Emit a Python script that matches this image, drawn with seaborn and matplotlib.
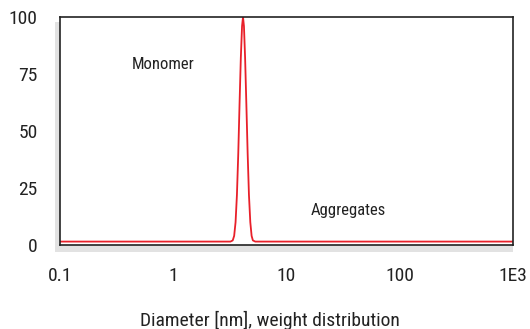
import matplotlib
matplotlib.use("Agg")
import matplotlib.pyplot as plt
from matplotlib import font_manager as fm
from matplotlib.patches import Rectangle
from matplotlib.ticker import LogLocator, NullFormatter
import seaborn as sns
import pandas as pd

sns.set_style("white")

# pick a condensed font if one is installed
family, stretch = "Liberation Sans", "normal"
cands = [f for f in fm.fontManager.ttflist
         if ("narrow" in f.fname.lower() or "condensed" in f.fname.lower())
         and "bold" not in f.fname.lower() and "oblique" not in f.fname.lower()
         and "italic" not in f.fname.lower()]
pref = ["Liberation Sans Narrow", "Roboto Condensed", "DejaVu Sans"]
cands.sort(key=lambda f: next((i for i, p in enumerate(pref) if f.name == p), 99))
if cands:
    family, stretch = cands[0].name, cands[0].stretch
plt.rcParams['font.family'] = [family, 'DejaVu Sans']
plt.rcParams['font.stretch'] = stretch

# Data
diameter_nm = [0.1, 1.0, 3.2, 3.35, 3.45, 3.55, 3.65, 3.75, 3.85, 3.95, 4.05, 4.13,
               4.21, 4.31, 4.42, 4.54, 4.66, 4.79, 4.92, 5.05, 5.3, 10.0, 100.0, 1000.0]
weight_pct = [1.5, 1.5, 1.5, 2.0, 4.0, 10.0, 22.0, 40.0, 62.0, 82.0, 96.0, 100.0,
              96.0, 82.0, 62.0, 40.0, 22.0, 10.0, 4.0, 2.0, 1.5, 1.5, 1.5, 1.5]
y_ticks = [0, 25, 50, 75, 100]
x_ticks = [0.1, 1, 10, 100, 1000]
x_tick_labels = ["0.1", "1", "10", "100", "1E3"]
annotations = [("Monomer", 0.81, 79), ("Aggregates", 35, 15)]
x_label = "Diameter [nm], weight distribution"

df = pd.DataFrame({"d": diameter_nm, "w": weight_pct})

fig = plt.figure(figsize=(5.30, 3.29), dpi=100)
ax = fig.add_axes([60/530, 1 - 245/329, 453/530, 228/329])

sns.lineplot(data=df, x="d", y="w", ax=ax, color="#e8202a", linewidth=1.3)

ax.set_xscale("log")
ax.set_xlim(0.1, 1000)
ax.set_ylim(0, 100)
ax.set_xticks(x_ticks)
ax.set_xticklabels(x_tick_labels)
ax.xaxis.set_minor_locator(LogLocator(base=10, subs=range(2, 10), numticks=20))
ax.xaxis.set_minor_formatter(NullFormatter())
ax.set_yticks(y_ticks)
ax.set_yticklabels([str(v) for v in y_ticks])

for s in ax.spines.values():
    s.set_color("#222222")
    s.set_linewidth(1.2)

ax.tick_params(axis="both", which="major", direction="out", length=5, width=1,
               color="#444444", labelsize=14, labelcolor="#222222")
ax.tick_params(axis="x", which="minor", direction="out", length=5, width=1, color="#666666")
ax.tick_params(axis="x", which="major", pad=11)
ax.tick_params(axis="y", which="major", pad=11)

# grey bands along left and bottom axes
bw = 5/453
bh = 7/228
ax.add_patch(Rectangle((-bw, -bh), bw, (245 - 22)/228 + bh, transform=ax.transAxes,
                       facecolor="#e2e2e2", edgecolor="none", clip_on=False, zorder=-1))
ax.add_patch(Rectangle((-bw, -bh), 1 + bw, bh, transform=ax.transAxes,
                       facecolor="#e2e2e2", edgecolor="none", clip_on=False, zorder=-1))

for txt, x, y in annotations:
    ax.text(x, y, txt, ha="center", va="center", fontsize=12, color="#222222")

ax.set_xlabel(x_label, fontsize=14, color="#222222")
ax.xaxis.set_label_coords((270 - 60) / 453, -0.33)
ax.xaxis.label.set_va("center")
ax.set_ylabel("")

fig.savefig("out.png", dpi=100)
